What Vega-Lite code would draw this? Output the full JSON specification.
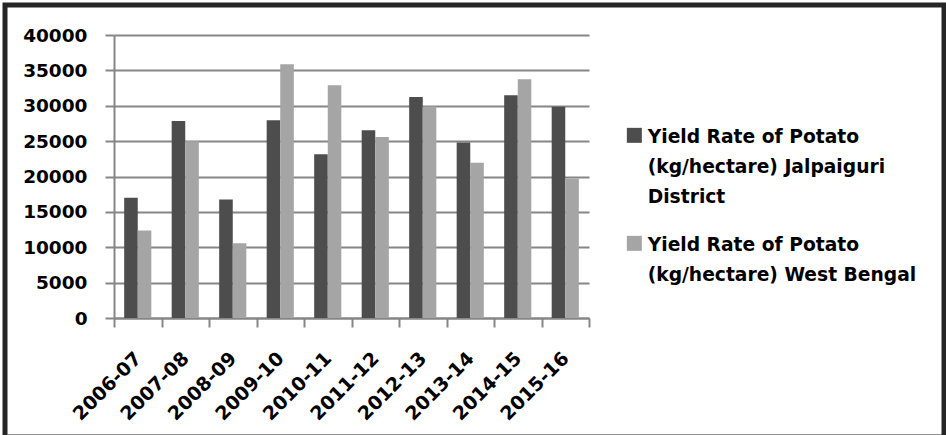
{
  "$schema": "https://vega.github.io/schema/vega-lite/v6.json",
  "width": 939,
  "height": 432,
  "autosize": "none",
  "padding": {"left": 5, "top": 5, "right": 2, "bottom": 0},
  "background": "white",
  "config": {
    "font": "DejaVu Sans",
    "view": {"stroke": "#262626", "strokeWidth": 5}
  },
  "data": {
    "values": [
      {"year": "2006-07", "region": "Jalpaiguri District", "yield": 17000},
      {"year": "2006-07", "region": "West Bengal", "yield": 12350},
      {"year": "2007-08", "region": "Jalpaiguri District", "yield": 27850},
      {"year": "2007-08", "region": "West Bengal", "yield": 25000},
      {"year": "2008-09", "region": "Jalpaiguri District", "yield": 16750},
      {"year": "2008-09", "region": "West Bengal", "yield": 10550},
      {"year": "2009-10", "region": "Jalpaiguri District", "yield": 27950},
      {"year": "2009-10", "region": "West Bengal", "yield": 35850},
      {"year": "2010-11", "region": "Jalpaiguri District", "yield": 23150},
      {"year": "2010-11", "region": "West Bengal", "yield": 32900},
      {"year": "2011-12", "region": "Jalpaiguri District", "yield": 26550},
      {"year": "2011-12", "region": "West Bengal", "yield": 25600},
      {"year": "2012-13", "region": "Jalpaiguri District", "yield": 31250},
      {"year": "2012-13", "region": "West Bengal", "yield": 29900},
      {"year": "2013-14", "region": "Jalpaiguri District", "yield": 24800},
      {"year": "2013-14", "region": "West Bengal", "yield": 21950},
      {"year": "2014-15", "region": "Jalpaiguri District", "yield": 31500},
      {"year": "2014-15", "region": "West Bengal", "yield": 33750},
      {"year": "2015-16", "region": "Jalpaiguri District", "yield": 29850},
      {"year": "2015-16", "region": "West Bengal", "yield": 19700}
    ]
  },
  "mark": {"type": "bar"},
  "encoding": {
    "x": {
      "field": "year",
      "type": "nominal",
      "sort": null,
      "scale": {"range": [109, 584], "paddingInner": 0, "paddingOuter": 0},
      "axis": {
        "title": null,
        "orient": "bottom",
        "offset": -119,
        "grid": false,
        "domainColor": "#868686",
        "domainWidth": 2,
        "tickBand": "extent",
        "tickColor": "#868686",
        "tickWidth": 2,
        "tickSize": 9,
        "labelAngle": -45,
        "labelAlign": "right",
        "labelBaseline": "middle",
        "labelFontSize": 19,
        "labelFontWeight": "bold",
        "labelColor": "#000000",
        "labelPadding": 28
      }
    },
    "xOffset": {
      "field": "region",
      "sort": ["Jalpaiguri District", "West Bengal"],
      "scale": {"paddingInner": 0, "paddingOuter": 0.75}
    },
    "y": {
      "field": "yield",
      "type": "quantitative",
      "scale": {"domain": [0, 40000], "range": [313, 30]},
      "axis": {
        "title": null,
        "offset": -109,
        "values": [0, 5000, 10000, 15000, 20000, 25000, 30000, 35000, 40000],
        "format": "d",
        "grid": true,
        "gridColor": "#868686",
        "gridWidth": 2,
        "domainColor": "#868686",
        "domainWidth": 2,
        "tickColor": "#868686",
        "tickWidth": 2,
        "tickSize": 9,
        "labelFontSize": 18.5,
        "labelFontWeight": "bold",
        "labelColor": "#000000",
        "labelPadding": 18
      }
    },
    "color": {
      "field": "region",
      "type": "nominal",
      "sort": ["Jalpaiguri District", "West Bengal"],
      "scale": {"range": ["#4d4d4d", "#a5a5a5"]},
      "legend": {
        "title": null,
        "orient": "none",
        "legendX": 620,
        "legendY": 121,
        "symbolType": "square",
        "symbolSize": 225,
        "symbolStrokeWidth": 0,
        "symbolOpacity": 1,
        "labelFontSize": 18.7,
        "labelFontWeight": "bold",
        "labelColor": "#000000",
        "labelLimit": 400,
        "labelBaseline": "alphabetic",
        "labelOffset": 4,
        "rowPadding": 26,
        "labelExpr": "datum.label == 'Jalpaiguri District' ? ['Yield Rate of Potato', '(kg/hectare) Jalpaiguri', 'District'] : ['Yield Rate of Potato', '(kg/hectare) West Bengal']",
        "encode": {
          "labels": {"update": {"lineHeight": {"value": 30}, "dy": {"value": 8}}}
        }
      }
    }
  }
}
